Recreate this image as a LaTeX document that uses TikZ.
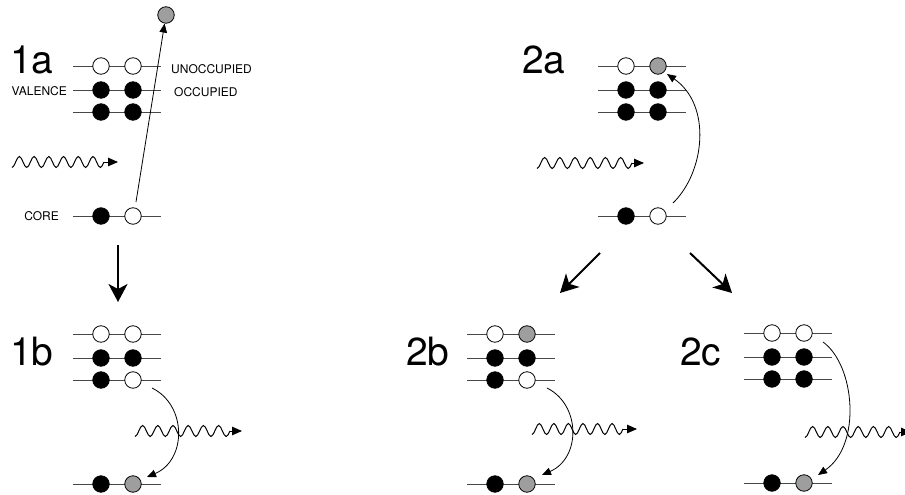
\documentclass[tikz,border=0pt]{standalone}
\usepackage{fontspec}
\setmainfont{TeX Gyre Heros}
\usetikzlibrary{arrows.meta}
\newcommand{\panel}[9]{%
  \draw[lvl] (0,0) -- (88,0);
  \draw[lvl] (0,24) -- (88,24);
  \draw[lvl] (0,46) -- (88,46);
  \draw[lvl] (0,150) -- (88,150);
  \node[#2] (#1t1) at (28,0) {};
  \node[#3] (#1t2) at (60,0) {};
  \node[#4] (#1m1) at (28,24) {};
  \node[#5] (#1m2) at (60,24) {};
  \node[#6] (#1l1) at (28,46) {};
  \node[#7] (#1l2) at (60,46) {};
  \node[#8] (#1c1) at (28,150) {};
  \node[#9] (#1c2) at (60,150) {};
}
\newcommand{\photon}[4]{% x0, yc, length, tip
  \pgfmathsetmacro{\hh}{#3/12.5}%
  \pgfmathsetmacro{\qq}{#3/25}%
  \draw[wave] (#1,#2+5.5)
    \foreach \s in {-11,11,-11,11,-11,11,-11,11,-11,11,-11,11}
      { .. controls +(0.3642*\hh,0) and +(-0.3642*\hh,0) .. ++(\hh,\s) }
    .. controls +(0.326*\qq,0) and +(-0.326*\qq,2.8) .. ++(\qq,-5.5);
  \draw[wave, -{Triangle[length=10pt,width=8.5pt]}] (#1+#3,#2) -- (#4,#2);
}
\begin{document}
\begin{tikzpicture}[x=1pt,y=-1pt,
  lvl/.style={draw=black!72, line width=0.9pt},
  circ/.style={circle, draw=black, minimum size=16.5pt, inner sep=0pt, line width=0.8pt},
  occ/.style={circ, fill=black},
  emp/.style={circ, fill=white},
  exc/.style={circ, fill=black!38},
  big/.style={font=\fontsize{39}{39}\selectfont, anchor=base west, inner sep=0pt},
  small/.style={font=\fontsize{12}{13}\selectfont, inner sep=0pt},
  wave/.style={line width=1pt},
  thin/.style={line width=0.8pt, -{Triangle[length=9pt,width=7.5pt]}},
  fat/.style={line width=2pt, -{Stealth[length=18pt,width=19pt,inset=5pt]}}]
\useasboundingbox (0,0) rectangle (905,495);
\clip (0,0) rectangle (905,495);

% ---------- panel 1a ----------
\begin{scope}[shift={(73,66)}]
  \panel{A}{emp}{emp}{occ}{occ}{occ}{occ}{occ}{emp}
\end{scope}
\node[big] (l1a) at (10,74) {1a};
\node[small, anchor=west] (unocc) at (171,69) {UNOCCUPIED};
\node[small, anchor=west] (occl) at (174,92) {OCCUPIED};
\node[small, anchor=east] (val) at (67,91) {VALENCE};
\node[small, anchor=east] (core) at (59,216) {CORE};
\node[exc] (ion) at (166,15) {};
\coordinate (Astart) at (136,202);
\draw[thin] (Astart) -- (ion);
\photon{12}{162}{92}{118}

% ---------- arrow 1a -> 1b ----------
\coordinate (d1s) at (118,245);
\coordinate (d1e) at (118,302);
\draw[fat] (d1s) -- (d1e);

% ---------- panel 1b ----------
\begin{scope}[shift={(73,334)}]
  \panel{B}{emp}{emp}{occ}{occ}{occ}{emp}{occ}{exc}
\end{scope}
\node[big] (l1b) at (10,365) {1b};
\photon{135}{431}{95}{242}
\coordinate (Bs) at (152,388);
\coordinate (Be) at (147,477);
\draw[thin] (Bs) .. controls (187,405) and (187,460) .. (Be);

% ---------- panel 2a ----------
\begin{scope}[shift={(598,66)}]
  \panel{C}{emp}{exc}{occ}{occ}{occ}{occ}{occ}{emp}
\end{scope}
\node[big] (l2a) at (522,74) {2a};
\photon{537}{163}{95}{644}
\coordinate (Cs) at (673,203);
\coordinate (Ce) at (667,74);
\draw[thin] (Cs) .. controls (705,172) and (712,105) .. (Ce);

% ---------- arrows 2a -> 2b, 2c ----------
\coordinate (ls) at (600,253);
\coordinate (le) at (560,293);
\coordinate (rs) at (690,253);
\coordinate (re) at (732,293);
\draw[fat] (ls) -- (le);
\draw[fat] (rs) -- (re);

% ---------- panel 2b ----------
\begin{scope}[shift={(467,334)}]
  \panel{D}{emp}{exc}{occ}{occ}{occ}{emp}{occ}{exc}
\end{scope}
\node[big] (l2b) at (406,365) {2b};
\photon{532}{429}{91}{637}
\coordinate (Ds) at (547,388);
\coordinate (De) at (542,475);
\draw[thin] (Ds) .. controls (581,405) and (581,458) .. (De);

% ---------- panel 2c ----------
\begin{scope}[shift={(744,333)}]
  \panel{E}{emp}{emp}{occ}{occ}{occ}{occ}{occ}{exc}
\end{scope}
\node[big] (l2c) at (680,365) {2c};
\photon{805}{432}{95}{911}
\coordinate (Es) at (823,342);
\coordinate (Ee) at (818,475);
\draw[thin] (Es) .. controls (855,365) and (862,445) .. (Ee);
\end{tikzpicture}
\end{document}
